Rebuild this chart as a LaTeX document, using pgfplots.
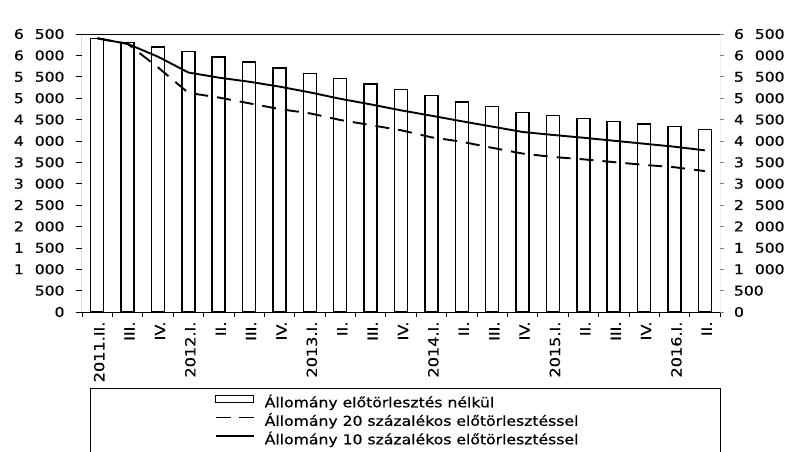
\documentclass[border=0pt]{standalone}
\usepackage{fontspec}
\setmainfont{DejaVu Sans}[FakeStretch=1.15, FakeBold=0.6]
\usepackage{pgfplots}
\usepackage{pgfplotstable}
\pgfplotsset{compat=1.18}

% Állomány (Mrd Ft): előtörlesztés nélkül, 20% ill. 10% előtörlesztéssel
\pgfplotstableread{
idx stock p20  p10
0   6400  6400 6400
1   6300  6270 6270
2   6200  5720 5970
3   6090  5125 5600
4   5965  5015 5480
5   5840  4880 5385
6   5710  4745 5270
7   5580  4645 5135
8   5465  4490 4985
9   5330  4370 4855
10  5205  4250 4715
11  5060  4085 4590
12  4915  3980 4460
13  4800  3840 4335
14  4665  3705 4210
15  4590  3625 4140
16  4530  3570 4075
17  4460  3505 4005
18  4400  3440 3935
19  4335  3385 3865
20  4270  3295 3780
}\datatable

\begin{document}
\begin{tikzpicture}
\begin{axis}[
  width=638pt, height=278pt, scale only axis,
  xmin=-0.5, xmax=20.5, ymin=0, ymax=6500,
  axis line style={draw=none},
  tick align=outside,
  major tick length=6pt, minor tick length=5pt,
  xtick={0,...,20},
  xticklabels={2011.II.,III.,IV.,2012.I.,II.,III.,IV.,2013.I.,II.,III.,IV.,2014.I.,II.,III.,IV.,2015.I.,II.,III.,IV.,2016.I.,II.},
  minor xtick={-0.5,0.5,...,20.5},
  xtick pos=left,
  every major x tick/.style={draw=none},
  every minor x tick/.append style={black, line width=0.7pt},
  xticklabel style={rotate=90, anchor=east, yshift=-2pt, font=\fontsize{14}{16}\selectfont},
  ytick={0,500,...,6500},
  ytick pos=left,
  ytick style={black, line width=0.7pt},
  scaled y ticks=false,
  /pgf/number format/assume math mode=true,
  /pgf/number format/1000 sep={\hspace{11pt}},
  yticklabel style={xshift=-8pt, font=\fontsize{13.5}{16}\selectfont},
  legend cell align=left,
  legend style={draw=none, fill=none,
    at={(axis description cs:0.2085,-0.297)}, anchor=north west,
    inner sep=0pt, column sep=10pt, row sep=2.5pt,
    font=\fontsize{13.6}{16}\selectfont,
    nodes={inner xsep=0pt, inner ysep=0pt, text height=12pt, text depth=4pt}},
]
\addplot[ybar, bar width=13pt, bar shift=0pt, fill=white, draw=black, line width=1.5pt,
  legend image code/.code={\draw[black, fill=white, line width=1pt] (0pt,1pt) rectangle (38pt,8pt);}]
  table[x=idx, y=stock] {\datatable};
\addplot[black, line width=1.9pt, dash pattern=on 14pt off 9pt, line join=round,
  legend image code/.code={\draw[black, line width=1.5pt, dash pattern=on 15pt off 8pt] (0pt,4.5pt) -- (38pt,4.5pt);}]
  table[x=idx, y=p20] {\datatable};
\addplot[black, line width=1.9pt, line join=round,
  legend image code/.code={\draw[black, line width=1.5pt] (0pt,4.5pt) -- (38pt,4.5pt);}]
  table[x=idx, y=p10] {\datatable};
\legend{Állomány előtörlesztés nélkül,Állomány 20 százalékos előtörlesztéssel,Állomány 10 százalékos előtörlesztéssel}

% frame of the plot area
\draw[line width=1pt] (rel axis cs:1,0) -- (rel axis cs:0,0) -- (rel axis cs:0,1) -- (rel axis cs:1,1);
\draw[line width=0.6pt, gray] (rel axis cs:1,0) -- (rel axis cs:1,1);
\node[anchor=base west, inner sep=0pt, xshift=3pt, yshift=5.7pt, font=\fontsize{16}{19}\selectfont] at (rel axis cs:0,1) {Mrd Ft};
\node[anchor=base east, inner sep=0pt, xshift=-7pt, yshift=5.7pt, font=\fontsize{16}{19}\selectfont] at (rel axis cs:1,1) {Mrd Ft};
\end{axis}

% secondary scale on the right
\begin{axis}[
  width=638pt, height=278pt, scale only axis,
  xmin=-0.5, xmax=20.5, ymin=0, ymax=6500,
  axis line style={draw=none},
  xtick=\empty,
  tick align=outside, major tick length=4pt,
  ytick={0,500,...,6500},
  ytick pos=right, yticklabel pos=right,
  ytick style={gray, line width=0.6pt},
  scaled y ticks=false,
  /pgf/number format/assume math mode=true,
  /pgf/number format/1000 sep={\hspace{11pt}},
  yticklabel style={anchor=west, xshift=6.5pt, font=\fontsize{13.5}{16}\selectfont},
]
\addplot[draw=none] coordinates {(0,0)};
\end{axis}

% legend frame
\draw[line width=1pt] (8pt,-141pt) -- (8pt,-76pt) -- (638pt,-76pt) -- (638pt,-141pt);

\pgfresetboundingbox
\path (-82pt,-139pt) rectangle (709pt,312pt);
\end{tikzpicture}
\end{document}
